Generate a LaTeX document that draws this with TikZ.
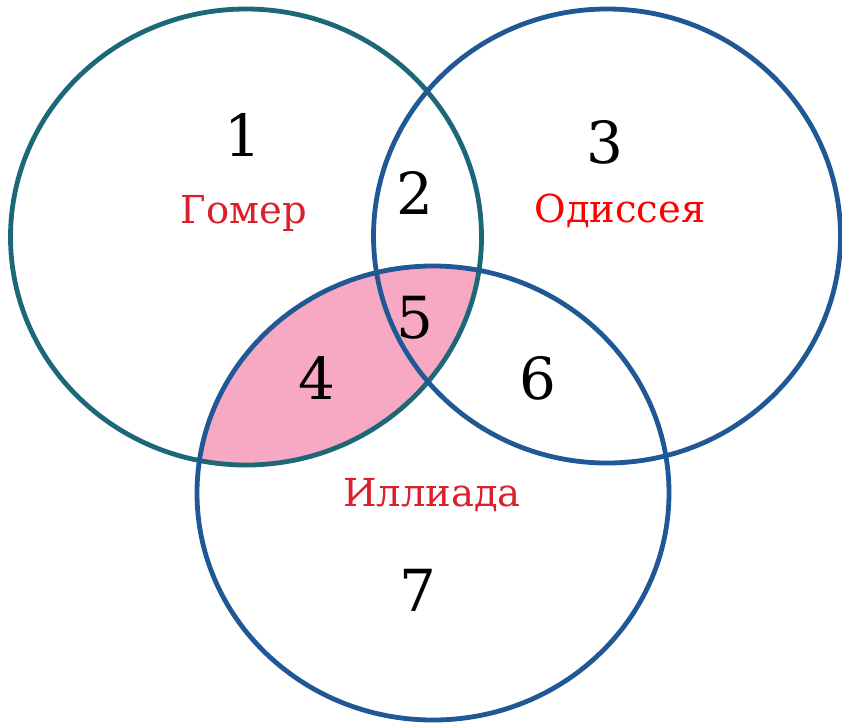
\documentclass[tikz,border=0pt]{standalone}
\usepackage{fontspec}
\setmainfont{DejaVu Serif}
\newfontfamily\timesfont{DejaVu Serif}
\definecolor{teal1}{HTML}{1D6878}
\definecolor{blue1}{HTML}{1F5894}
\definecolor{pink1}{HTML}{F7A8C2}
\definecolor{lblred}{HTML}{D9202C}
\definecolor{odred}{HTML}{FF0000}
\tikzset{
  ring/.style={line width=4.8pt},
  num/.style={font=\timesfont\fontsize{58}{58}\selectfont, text=black, inner sep=0pt},
  lbl/.style={font=\timesfont\fontsize{38.5}{38.5}\selectfont, inner sep=0pt},
}
\begin{document}
\begin{tikzpicture}[x=1pt,y=-1pt]
\useasboundingbox[fill=white] (0,0) rectangle (842,724);
% pink lens: left circle ∩ bottom circle
\begin{scope}
  \clip (246,237) ellipse [x radius=235.5, y radius=228];
  \fill[pink1] (433,493) ellipse [x radius=236, y radius=227];
\end{scope}
\draw[ring, teal1] (246,237) ellipse [x radius=235.5, y radius=228];
\draw[ring, blue1] (433,493) ellipse [x radius=236, y radius=227];
\draw[ring, blue1] (607,236) ellipse [x radius=233.5, y radius=227];
% numbers
\node[num] (n1) at (243,135) {1};
\node[num] (n2) at (415,193) {2};
\node[num] (n3) at (605,142) {3};
\node[num] (n4) at (317,378) {4};
\node[num] (n5) at (415,318) {5};
\node[num] (n6) at (538,378) {6};
\node[num] (n7) at (418,590) {7};
% labels
\node[lbl, text=lblred] (homer) at (244,213) {Гомер};
\node[lbl, text=odred] (odyssey) at (620,211) {Одиссея};
\node[lbl, text=lblred] (iliad) at (432,495) {Иллиада};
\end{tikzpicture}
\end{document}
